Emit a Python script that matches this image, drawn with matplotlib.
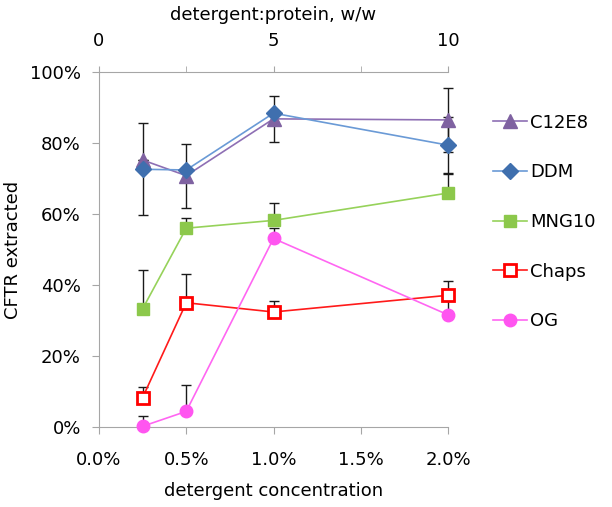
"""CFTR extraction vs detergent concentration, with a secondary w/w axis on top."""

import matplotlib
matplotlib.use("Agg")
import matplotlib.pyplot as plt
from matplotlib.ticker import FuncFormatter, FixedLocator

plt.rcParams["font.family"] = ["DejaVu Sans"]
plt.rcParams["font.size"] = 13

# detergent concentration, % (w/v)
conc = [0.25, 0.5, 1.0, 2.0]

# fraction of CFTR extracted, %
c12e8 = [75.2, 70.8, 86.8, 86.5]
ddm = [72.6, 72.4, 88.4, 79.4]
mng10 = [33.3, 56.0, 58.2, 65.9]
chaps = [8.3, 35.0, 32.4, 37.1]
og = [0.2, 4.4, 53.1, 31.6]

# error bars (lower, upper), %
c12e8_err = ([0, 9.0, 6.5, 9.0], [0, 9.0, 6.5, 9.0])
ddm_err = ([13.0, 0, 0, 8.0], [13.0, 0, 0, 8.0])
mng10_err = ([0, 0, 0, 0], [10.8, 3.0, 5.0, 5.6])
chaps_err = ([0, 0, 0, 0], [3.0, 8.0, 3.0, 4.0])
og_err = ([0, 0, 0, 0], [3.0, 7.5, 3.0, 5.5])

series = [
    ("C12E8", c12e8, c12e8_err, dict(color="#8E6FB4", marker="^", ms=10,
                                      mfc="#7F62A1", mec="#7F62A1")),
    ("DDM", ddm, ddm_err, dict(color="#6A9AD6", marker="D", ms=8,
                                mfc="#3F6FAE", mec="#3F6FAE")),
    ("MNG10", mng10, mng10_err, dict(color="#96D25A", marker="s", ms=9,
                                      mfc="#8CC84B", mec="#8CC84B")),
    ("Chaps", chaps, chaps_err, dict(color="#FF1A1A", marker="s", ms=9,
                                      mfc="white", mec="#FF0000", mew=2)),
    ("OG", og, og_err, dict(color="#FF66F2", marker="o", ms=9,
                             mfc="#FF55F0", mec="#FF55F0")),
]

fig = plt.figure(figsize=(6.12, 5.07), dpi=100)
ax = fig.add_axes([99 / 612, 80 / 507, 349 / 612, 355 / 507])

for name, vals, err, style in series:
    lo = [v / 100 for v in err[0]]
    hi = [v / 100 for v in err[1]]
    y = [v / 100 for v in vals]
    eb = ax.errorbar(conc, y, yerr=[lo, hi], fmt="none", ecolor="#1a1a1a",
                     elinewidth=1.0, capsize=3.5, capthick=1.0, zorder=2)
    for art in eb.lines[1] + eb.lines[2]:
        art.set_clip_on(False)
    ax.plot(conc, y, lw=1.2, label=name, zorder=3, clip_on=False, **style)

ax.set_xlim(0, 2.0)
ax.set_ylim(0, 1.0)
ax.set_xticks([0, 0.5, 1.0, 1.5, 2.0])
ax.set_yticks([0, 0.2, 0.4, 0.6, 0.8, 1.0])
ax.xaxis.set_major_formatter(FuncFormatter(lambda v, _: f"{v:.1f}%"))
ax.yaxis.set_major_formatter(FuncFormatter(lambda v, _: f"{v * 100:.0f}%"))

spine_col = "#A6A6A6"
for side in ["left", "bottom", "top"]:
    ax.spines[side].set_color(spine_col)
ax.spines["right"].set_visible(False)
ax.spines["top"].set_visible(False)
ax.tick_params(axis="x", direction="out", length=5, color=spine_col, pad=12)
ax.tick_params(axis="y", direction="out", length=5, color=spine_col, pad=8)

ax.set_xlabel("detergent concentration", labelpad=10)
ax.set_ylabel("CFTR extracted", labelpad=6)

# secondary axis: detergent:protein ratio
top = ax.secondary_xaxis("top", functions=(lambda x: x * 5, lambda x: x / 5))
top.spines["top"].set_color(spine_col)
top.xaxis.set_major_locator(FixedLocator([0, 5, 10]))
top.xaxis.set_minor_locator(FixedLocator([2.5, 7.5]))
top.tick_params(which="both", direction="out", length=4, color=spine_col, pad=12)
fig.text((99 + 448) / 2 / 612, 1 - 15 / 507, "detergent:protein, w/w",
         ha="center", va="center")

fig.legend(loc="center left", bbox_to_anchor=(493 / 612, 1 - 222 / 507),
           frameon=False, handlelength=1.9, handletextpad=0.15,
           labelspacing=1.75, borderpad=0, borderaxespad=0)

fig.savefig("out.png", dpi=100)
